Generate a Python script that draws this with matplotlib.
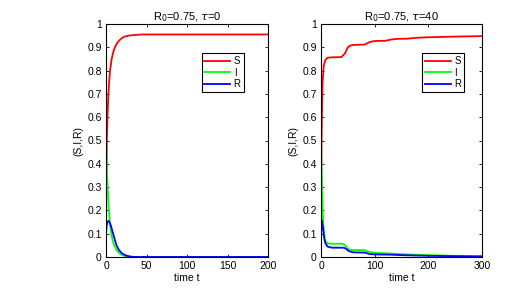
import matplotlib
matplotlib.use("Agg")
import matplotlib.pyplot as plt

plt.rcParams['font.family'] = ['Liberation Sans', 'DejaVu Sans']
plt.rcParams['font.size'] = 7.5
plt.rcParams['mathtext.fontset'] = 'dejavusans'

# tau = 0 panel
t_s0 = [0, 1, 2, 3, 4, 5, 7, 9, 11, 14, 18, 22, 28, 35, 45, 200]
s0 = [0.2, 0.5, 0.62, 0.7, 0.76, 0.8, 0.85, 0.88, 0.9, 0.92, 0.935, 0.945, 0.95, 0.953, 0.955, 0.955]
t_i0 = [0, 1, 2, 3, 4, 5, 6, 8, 10, 13, 16, 20, 25, 30, 200]
i0 = [0.5, 0.4, 0.3, 0.23, 0.18, 0.14, 0.11, 0.075, 0.05, 0.03, 0.018, 0.008, 0.003, 0.0, 0.0]
t_r0 = [0, 1, 2, 3, 4, 6, 8, 10, 13, 16, 20, 25, 30, 35, 200]
r0 = [0.1, 0.14, 0.152, 0.155, 0.152, 0.135, 0.11, 0.085, 0.05, 0.03, 0.015, 0.006, 0.002, 0.0, 0.0]

# tau = 40 panel
t_s1 = [0, 1, 2, 3, 5, 8, 12, 20, 38, 45, 50, 55, 60, 82, 90, 100, 120, 130, 140, 160, 180, 200, 250, 300]
s1 = [0.2, 0.5, 0.65, 0.75, 0.82, 0.845, 0.855, 0.857, 0.858, 0.875, 0.9, 0.908, 0.91, 0.912, 0.922, 0.927,
      0.928, 0.933, 0.936, 0.937, 0.941, 0.943, 0.946, 0.948]
t_i1 = [0, 2, 4, 6, 8, 12, 20, 40, 45, 50, 55, 82, 90, 100, 130, 150, 200, 250, 300]
i1 = [0.5, 0.3, 0.15, 0.1, 0.07, 0.058, 0.057, 0.057, 0.05, 0.035, 0.03, 0.029, 0.022, 0.018, 0.015,
      0.012, 0.008, 0.005, 0.004]
t_r1 = [0, 2, 4, 6, 8, 12, 20, 42, 47, 52, 60, 82, 90, 100, 130, 150, 200, 300]
r1 = [0.1, 0.155, 0.12, 0.08, 0.06, 0.045, 0.04, 0.04, 0.035, 0.025, 0.02, 0.019, 0.013, 0.011, 0.01,
      0.008, 0.005, 0.002]

titles = [r'R$_0$=0.75, $\tau$=0', r'R$_0$=0.75, $\tau$=40']
xmaxes = [200, 300]
xticks = [[0, 50, 100, 150, 200], [0, 100, 200, 300]]
panels = [(t_s0, s0, t_i0, i0, t_r0, r0), (t_s1, s1, t_i1, i1, t_r1, r1)]
boxes = [[106 / 526, 35 / 292, 162 / 526, 233 / 292], [321 / 526, 35 / 292, 161 / 526, 233 / 292]]
legend_pos = [(0.59, 0.875), (0.63, 0.875)]

fig = plt.figure(figsize=(5.26, 2.92), dpi=100)
for k in range(2):
    ax = fig.add_axes(boxes[k])
    ts, s, ti, i, tr, r = panels[k]
    ax.plot(ts, s, color=(1, 0, 0), lw=1.3, label='S')
    ax.plot(ti, i, color=(0, 1, 0), lw=1.3, label='I')
    ax.plot(tr, r, color=(0, 0, 1), lw=1.3, label='R')
    ax.set_xlim(0, xmaxes[k])
    ax.set_ylim(0, 1)
    ax.set_xticks(xticks[k])
    ax.set_yticks([0, 0.1, 0.2, 0.3, 0.4, 0.5, 0.6, 0.7, 0.8, 0.9, 1])
    ax.set_yticklabels(['0', '0.1', '0.2', '0.3', '0.4', '0.5', '0.6', '0.7', '0.8', '0.9', '1'])
    ax.tick_params(direction='in', top=True, right=True, length=2.5, width=0.6, pad=3)
    for sp in ax.spines.values():
        sp.set_linewidth(0.8)
    ax.set_title(titles[k], fontsize=8, pad=3)
    ax.set_xlabel('time t', labelpad=1)
    ax.set_ylabel('(S,I,R)', labelpad=3)
    leg = ax.legend(loc='upper left', bbox_to_anchor=legend_pos[k], fancybox=False, framealpha=1,
                    edgecolor='black', borderpad=0.3, handlelength=2.6, handletextpad=0.4,
                    labelspacing=0.15, borderaxespad=0, fontsize=7)
    leg.get_frame().set_linewidth(0.8)

fig.savefig('out.png', dpi=100)
